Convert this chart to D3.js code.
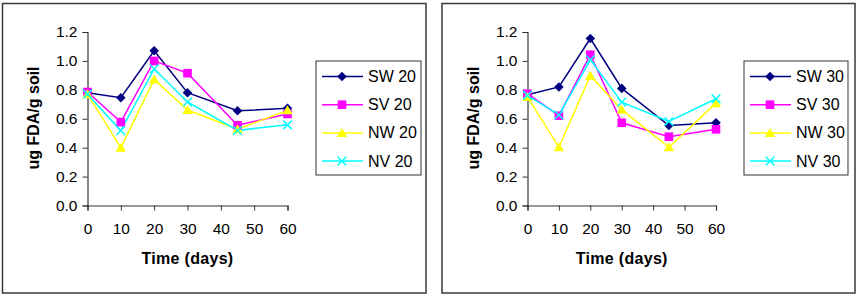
<!DOCTYPE html>
<html><head><meta charset="utf-8">
<script src="https://cdn.jsdelivr.net/npm/d3@7"></script>
<style>body{margin:0;background:#fff}svg{display:block}text{font-family:"Liberation Sans",Arial,sans-serif}</style>
</head><body><svg id="c" width="859" height="298"></svg>
<script>
const days = [0, 10, 20, 30, 45, 60];
const xTicks = [0, 10, 20, 30, 40, 50, 60];
const yTicks = [0.0, 0.2, 0.4, 0.6, 0.8, 1.0, 1.2];
const seriesNames = ["SW", "SV", "NW", "NV"];
const colors = ["#000080", "#FF00FF", "#FFFF00", "#00FFFF"];
const markers = ["diamond", "square", "triangle", "x"];
const sw20 = [0.78, 0.745, 1.07, 0.78, 0.655, 0.672];
const sv20 = [0.785, 0.577, 1.0, 0.915, 0.555, 0.633];
const nw20 = [0.77, 0.40, 0.872, 0.66, 0.528, 0.658];
const nv20 = [0.77, 0.518, 0.945, 0.716, 0.519, 0.558];
const sw30 = [0.766, 0.82, 1.155, 0.81, 0.553, 0.572];
const sv30 = [0.773, 0.621, 1.043, 0.572, 0.476, 0.527];
const nw30 = [0.75, 0.403, 0.898, 0.663, 0.403, 0.708];
const nv30 = [0.762, 0.626, 1.008, 0.715, 0.581, 0.738];

const svg = d3.select("#c");
const FONT = '"Liberation Sans",Arial,sans-serif';

function marker(sel, type, color) {
  if (type === "diamond") sel.append("path").attr("d", "M0,-4.8L4.8,0L0,4.8L-4.8,0Z").attr("fill", color);
  else if (type === "square") sel.append("rect").attr("x", -4.3).attr("y", -4.3).attr("width", 8.6).attr("height", 8.6).attr("fill", color);
  else if (type === "triangle") sel.append("path").attr("d", "M0,-5L5.2,4L-5.2,4Z").attr("fill", color);
  else sel.append("path").attr("d", "M-4.3,-4.3L4.3,4.3M-4.3,4.3L4.3,-4.3").attr("stroke", color).attr("stroke-width", 1.5).attr("fill", "none");
}

function chart(o) {
  const g = svg.append("g");
  g.append("rect").attr("x", o.fx0).attr("y", 3.5).attr("width", o.fx1 - o.fx0).attr("height", 289.5)
    .attr("fill", "#fff").attr("stroke", "#3a3a3a").attr("stroke-width", 1.5);
  const x = d3.scaleLinear().domain([0, 60]).range([o.ax0, o.ax1]);
  const y = d3.scaleLinear().domain([0, 1.2]).range([205.5, 32]);
  const ya = g.append("g").attr("transform", `translate(${o.ax0},0)`)
    .call(d3.axisLeft(y).tickValues(yTicks).tickFormat(d3.format(".1f")).tickSize(5).tickPadding(5));
  const xa = g.append("g").attr("transform", "translate(0,205.5)")
    .call(d3.axisBottom(x).tickValues(xTicks).tickSize(5).tickPadding(12));
  [ya, xa].forEach(a => {
    a.attr("font-size", 15.5).attr("font-family", FONT);
    a.select(".domain").attr("stroke", "#333").attr("stroke-width", 1.2);
    a.selectAll(".tick line").attr("stroke", "#333");
    a.selectAll("text").attr("fill", "#000");
  });
  g.append("text").attr("transform", `translate(${o.ax0 - 49},118) rotate(-90)`).attr("text-anchor", "middle")
    .attr("font-size", 16).attr("font-weight", "bold").text("ug FDA/g soil");
  g.append("text").attr("x", (o.ax0 + o.ax1) / 2).attr("y", 264).attr("text-anchor", "middle")
    .attr("font-size", 16).attr("font-weight", "bold").attr("letter-spacing", 0.3).text("Time (days)");
  const line = d3.line().x((d, i) => x(days[i])).y(d => y(d));
  o.data.forEach((s, k) => {
    g.append("path").attr("d", line(s)).attr("fill", "none").attr("stroke", colors[k]).attr("stroke-width", 1.5);
  });
  o.data.forEach((s, k) => {
    s.forEach((v, i) => {
      const m = g.append("g").attr("transform", `translate(${x(days[i])},${y(v)})`);
      marker(m, markers[k], colors[k]);
    });
  });
  // legend
  g.append("rect").attr("x", o.lx).attr("y", 61).attr("width", o.lw).attr("height", 114)
    .attr("fill", "#fff").attr("stroke", "#333").attr("stroke-width", 1);
  seriesNames.forEach((n, k) => {
    const ly = 76.5 + k * 28.2;
    g.append("line").attr("x1", o.lx + 6).attr("x2", o.lx + 47).attr("y1", ly).attr("y2", ly)
      .attr("stroke", colors[k]).attr("stroke-width", 1.5);
    marker(g.append("g").attr("transform", `translate(${o.lx + 26},${ly})`), markers[k], colors[k]);
    g.append("text").attr("x", o.lx + 52).attr("y", ly + 5.5).attr("font-size", 16).text(`${n} ${o.suffix}`);
  });
}

chart({fx0: 2.5, fx1: 426, ax0: 87.5, ax1: 287.5, lx: 316, lw: 105, suffix: 20, data: [sw20, sv20, nw20, nv20]});
chart({fx0: 442, fx1: 855, ax0: 527.5, ax1: 716, lx: 744, lw: 104, suffix: 30, data: [sw30, sv30, nw30, nv30]});
</script></body></html>
